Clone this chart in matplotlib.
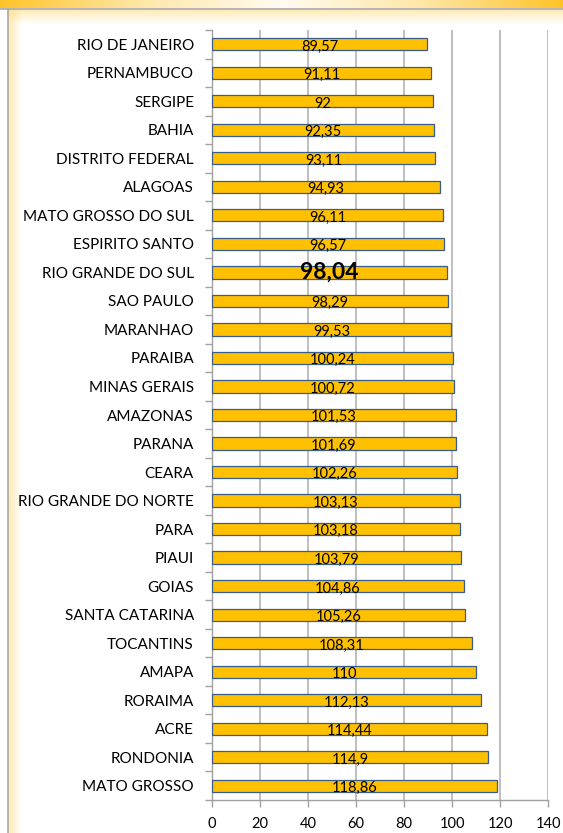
import numpy as np
import matplotlib.pyplot as plt
from matplotlib.colors import LinearSegmentedColormap

estados = ["RIO DE JANEIRO", "PERNAMBUCO", "SERGIPE", "BAHIA", "DISTRITO FEDERAL",
           "ALAGOAS", "MATO GROSSO DO SUL", "ESPIRITO SANTO", "RIO GRANDE DO SUL",
           "SAO PAULO", "MARANHAO", "PARAIBA", "MINAS GERAIS", "AMAZONAS", "PARANA",
           "CEARA", "RIO GRANDE DO NORTE", "PARA", "PIAUI", "GOIAS", "SANTA CATARINA",
           "TOCANTINS", "AMAPA", "RORAIMA", "ACRE", "RONDONIA", "MATO GROSSO"]
valores = [89.57, 91.11, 92, 92.35, 93.11, 94.93, 96.11, 96.57, 98.04, 98.29, 99.53,
           100.24, 100.72, 101.53, 101.69, 102.26, 103.13, 103.18, 103.79, 104.86,
           105.26, 108.31, 110, 112.13, 114.44, 114.9, 118.86]
destaque = "RIO GRANDE DO SUL"
xticks = [0, 20, 40, 60, 80, 100, 120, 140]

plt.rcParams['font.family'] = ['Lato', 'DejaVu Sans']

fig = plt.figure(figsize=(5.63, 8.33), dpi=100)
fig.patch.set_facecolor('white')

# moldura: faixa laranja no topo e bordas amareladas
bg = fig.add_axes([0, 0, 1, 1], zorder=-10)
bg.set_xlim(0, 563)
bg.set_ylim(833, 0)
bg.axis('off')
cm_top = LinearSegmentedColormap.from_list('t', ['#FFC32A', '#FFE7A8', '#FFFBF0', '#FFE7A8', '#FFC32A'])
bg.imshow(np.linspace(0, 1, 300)[None, :], cmap=cm_top, aspect='auto', extent=[0, 563, 8, 0])
fade_v = np.zeros((40, 1, 4))
fade_v[..., 0:3] = [1.0, 0.85, 0.45]
fade_v[:, 0, 3] = np.linspace(0.55, 0, 40)
bg.imshow(fade_v, aspect='auto', extent=[8, 563, 24, 9])
fade_h = np.zeros((1, 40, 4))
fade_h[..., 0:3] = [1.0, 0.85, 0.45]
fade_h[0, :, 3] = np.linspace(0.55, 0, 40)
bg.imshow(fade_h, aspect='auto', extent=[8, 22, 833, 9])
bg.plot([0, 563], [8.5, 8.5], color='#A8A8A8', lw=1.2)
bg.plot([7.5, 7.5], [8.5, 833], color='#A8A8A8', lw=1.2)

ax = fig.add_axes([0.3766, 0.0396, 0.5968, 0.9244])
ax.set_facecolor('none')
y = np.arange(len(estados))
ax.barh(y, valores, height=0.43, color='#FFC000', edgecolor='#385D8A', linewidth=0.9, zorder=3)

for yi, nome, v in zip(y, estados, valores):
    txt = ('%g' % v).replace('.', ',')
    if nome == destaque:
        ax.text(v / 2, yi - 0.02, txt, ha='center', va='center', fontsize=16.5,
                fontweight='bold', zorder=4)
    else:
        ax.text(v / 2, yi + 0.08, txt, ha='center', va='center', fontsize=10.5, zorder=4)

ax.set_xlim(0, 140)
ax.set_ylim(len(estados) - 0.5, -0.5)
ax.set_xticks(xticks)
ax.set_yticks(y)
ax.set_yticklabels(estados, fontsize=11)
ax.set_yticks(np.arange(len(estados) + 1) - 0.5, minor=True)
ax.tick_params(axis='y', which='major', length=0, pad=13)
ax.tick_params(axis='y', which='minor', length=5, color='#A0A0A0', width=1)
ax.tick_params(axis='x', length=5, color='#A0A0A0', width=1, labelsize=10.5, pad=7)
ax.grid(axis='x', color='#B4B4B4', lw=1.2, zorder=0)
for s in ['top', 'right']:
    ax.spines[s].set_visible(False)
for s in ['left', 'bottom']:
    ax.spines[s].set_color('#A0A0A0')
    ax.spines[s].set_linewidth(1)

fig.savefig('out.png', dpi=100)
